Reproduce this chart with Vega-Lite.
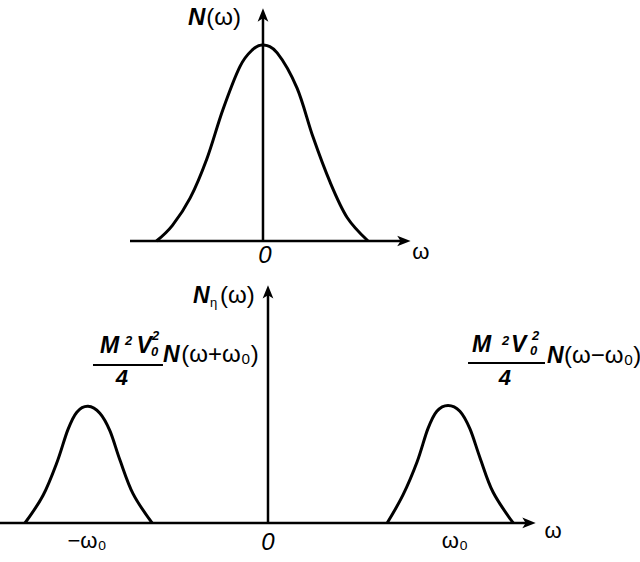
{
  "$schema": "https://vega.github.io/schema/vega-lite/v6.json",
  "width": 640,
  "height": 562,
  "padding": 0,
  "autosize": "none",
  "background": "white",
  "config": {"view": {"stroke": null}, "text": {"font": "Liberation Sans", "color": "black", "baseline": "alphabetic"}},
  "datasets": {
    "topCurve": [
      {"w": -3.0, "n": 0.0}, {"w": -2.55, "n": 0.08}, {"w": -2.05, "n": 0.22}, {"w": -1.58, "n": 0.42},
      {"w": -1.13, "n": 0.67}, {"w": -0.65, "n": 0.89}, {"w": -0.3, "n": 0.975}, {"w": 0.0, "n": 1.0},
      {"w": 0.4, "n": 0.96}, {"w": 0.96, "n": 0.78}, {"w": 1.41, "n": 0.53}, {"w": 1.89, "n": 0.3},
      {"w": 2.37, "n": 0.12}, {"w": 2.96, "n": 0.0}
    ],
    "topAxes": [
      {"w": -3.746, "n": 0, "w2": 3.97, "n2": 0},
      {"w": 0, "n": 0, "w2": 0, "n2": 1.15}
    ],
    "topArrowX": [{"w": 3.97, "n": 0}],
    "topArrowY": [{"w": 0, "n": 1.153}],
    "topItalic": [{"w": -2.113, "n": 1.102, "t": "N"}],
    "topUpright": [{"w": -1.6, "n": 1.102, "t": "(ω)"}],
    "topAxisZero": [{"w": 0.056, "n": -0.112, "t": "0"}],
    "topAxisOmega": [{"w": 4.45, "n": -0.092, "t": "ω"}],
    "botCurves": [
      {"side": "minus", "w": -6.75, "n": 0.0}, {"side": "minus", "w": -6.25, "n": 0.14}, {"side": "minus", "w": -5.86, "n": 0.31},
      {"side": "minus", "w": -5.56, "n": 0.475}, {"side": "minus", "w": -5.31, "n": 0.565}, {"side": "minus", "w": -5.0, "n": 0.595},
      {"side": "minus", "w": -4.67, "n": 0.56}, {"side": "minus", "w": -4.39, "n": 0.47}, {"side": "minus", "w": -4.11, "n": 0.32},
      {"side": "minus", "w": -3.75, "n": 0.15}, {"side": "minus", "w": -3.22, "n": 0.0},
      {"side": "plus", "w": 3.31, "n": 0.0}, {"side": "plus", "w": 3.75, "n": 0.143}, {"side": "plus", "w": 4.14, "n": 0.311},
      {"side": "plus", "w": 4.44, "n": 0.48}, {"side": "plus", "w": 4.69, "n": 0.57}, {"side": "plus", "w": 5.0, "n": 0.6},
      {"side": "plus", "w": 5.33, "n": 0.57}, {"side": "plus", "w": 5.61, "n": 0.48}, {"side": "plus", "w": 5.89, "n": 0.332},
      {"side": "plus", "w": 6.25, "n": 0.158}, {"side": "plus", "w": 6.81, "n": 0.0}
    ],
    "botAxes": [
      {"w": -7.444, "n": 0, "w2": 7.25, "n2": 0},
      {"w": 0, "n": 0, "w2": 0, "n2": 1.17}
    ],
    "botFrac": [
      {"w": -4.861, "n": 0.806, "w2": -2.917, "n2": 0.806},
      {"w": 5.556, "n": 0.816, "w2": 7.694, "n2": 0.816}
    ],
    "botArrowX": [{"w": 7.25, "n": 0}],
    "botArrowY": [{"w": 0, "n": 1.179}],
    "botItalicLeft": [
      {"w": -2.083, "n": 1.122, "t": "N"},
      {"w": -4.667, "n": 0.867, "t": "M"},
      {"w": -3.65, "n": 0.867, "t": "V"},
      {"w": -2.917, "n": 0.821, "t": "N"},
      {"w": 5.67, "n": 0.872, "t": "M"},
      {"w": 6.75, "n": 0.872, "t": "V"},
      {"w": 7.75, "n": 0.816, "t": "N"}
    ],
    "botItalicCenter": [
      {"w": -4.056, "n": 0.704, "t": "4"},
      {"w": 6.583, "n": 0.704, "t": "4"}
    ],
    "botAxisZero": [{"w": 0.0, "n": -0.138, "t": "0"}],
    "botUprightLeft": [
      {"w": -1.33, "n": 1.122, "t": "(ω)"},
      {"w": -2.41, "n": 0.821, "t": "(ω+ω₀)"},
      {"w": 8.22, "n": 0.816, "t": "(ω−ω₀)"}
    ],
    "botUprightCenter": [
      {"w": -5.028, "n": -0.128, "t": "−ω₀"},
      {"w": 5.194, "n": -0.128, "t": "ω₀"},
      {"w": 7.917, "n": -0.077, "t": "ω"}
    ],
    "botSub": [
      {"w": -1.611, "n": 1.102, "t": "η"}
    ],
    "botSmall": [
      {"w": -3.97, "n": 0.908, "t": "2"},
      {"w": -3.25, "n": 0.852, "t": "0"},
      {"w": -3.22, "n": 0.934, "t": "2"},
      {"w": 6.5, "n": 0.908, "t": "2"},
      {"w": 7.278, "n": 0.857, "t": "0"},
      {"w": 7.333, "n": 0.934, "t": "2"}
    ]
  },
  "layer": [
    {
      "encoding": {
        "x": {"field": "w", "type": "quantitative", "scale": {"domain": [-7.408, 10.62], "nice": false, "zero": false}, "axis": null},
        "y": {"field": "n", "type": "quantitative", "scale": {"domain": [-1.6378, 1.2296], "nice": false, "zero": false}, "axis": null}
      },
      "layer": [
        {"data": {"name": "topAxes"}, "mark": {"type": "rule", "strokeWidth": 2.5, "color": "black"},
         "encoding": {"x2": {"field": "w2"}, "y2": {"field": "n2"}}},
        {"data": {"name": "topCurve"}, "mark": {"type": "line", "interpolate": "cardinal", "strokeWidth": 3, "color": "black"}, "encoding": {}},
        {"data": {"name": "topArrowX"}, "mark": {"type": "point", "shape": "M 1 0 L -1 -0.8 L -0.5 0 L -1 0.8 Z", "size": 180, "filled": true, "color": "black", "opacity": 1}, "encoding": {}},
        {"data": {"name": "topArrowY"}, "mark": {"type": "point", "shape": "M 0 -1 L -0.8 1 L 0 0.5 L 0.8 1 Z", "size": 180, "filled": true, "color": "black", "opacity": 1}, "encoding": {}},
        {"data": {"name": "topItalic"}, "mark": {"type": "text", "align": "left", "fontStyle": "italic", "fontWeight": "bold", "fontSize": 24}, "encoding": {"text": {"field": "t"}}},
        {"data": {"name": "topUpright"}, "mark": {"type": "text", "align": "left", "fontSize": 24}, "encoding": {"text": {"field": "t"}}},
        {"data": {"name": "topAxisZero"}, "mark": {"type": "text", "align": "center", "fontStyle": "italic", "fontSize": 24}, "encoding": {"text": {"field": "t"}}},
        {"data": {"name": "topAxisOmega"}, "mark": {"type": "text", "align": "center", "fontSize": 22}, "encoding": {"text": {"field": "t"}}}
      ]
    },
    {
      "encoding": {
        "x": {"field": "w", "type": "quantitative", "scale": {"domain": [-7.444, 10.333], "nice": false, "zero": false}, "axis": null},
        "y": {"field": "n", "type": "quantitative", "scale": {"domain": [-0.199, 2.668], "nice": false, "zero": false}, "axis": null}
      },
      "layer": [
        {"data": {"name": "botAxes"}, "mark": {"type": "rule", "strokeWidth": 2.5, "color": "black"},
         "encoding": {"x2": {"field": "w2"}, "y2": {"field": "n2"}}},
        {"data": {"name": "botFrac"}, "mark": {"type": "rule", "strokeWidth": 2, "color": "black"},
         "encoding": {"x2": {"field": "w2"}, "y2": {"field": "n2"}}},
        {"data": {"name": "botCurves"}, "mark": {"type": "line", "interpolate": "cardinal", "strokeWidth": 3, "color": "black"},
         "encoding": {"detail": {"field": "side"}}},
        {"data": {"name": "botArrowX"}, "mark": {"type": "point", "shape": "M 1 0 L -1 -0.8 L -0.5 0 L -1 0.8 Z", "size": 180, "filled": true, "color": "black", "opacity": 1}, "encoding": {}},
        {"data": {"name": "botArrowY"}, "mark": {"type": "point", "shape": "M 0 -1 L -0.8 1 L 0 0.5 L 0.8 1 Z", "size": 180, "filled": true, "color": "black", "opacity": 1}, "encoding": {}},
        {"data": {"name": "botItalicLeft"}, "mark": {"type": "text", "align": "left", "fontStyle": "italic", "fontWeight": "bold", "fontSize": 23}, "encoding": {"text": {"field": "t"}}},
        {"data": {"name": "botItalicCenter"}, "mark": {"type": "text", "align": "center", "fontStyle": "italic", "fontWeight": "bold", "fontSize": 22}, "encoding": {"text": {"field": "t"}}},
        {"data": {"name": "botAxisZero"}, "mark": {"type": "text", "align": "center", "fontStyle": "italic", "fontSize": 24}, "encoding": {"text": {"field": "t"}}},
        {"data": {"name": "botUprightLeft"}, "mark": {"type": "text", "align": "left", "fontSize": 24}, "encoding": {"text": {"field": "t"}}},
        {"data": {"name": "botUprightCenter"}, "mark": {"type": "text", "align": "center", "fontSize": 22}, "encoding": {"text": {"field": "t"}}},
        {"data": {"name": "botSub"}, "mark": {"type": "text", "align": "left", "fontSize": 13}, "encoding": {"text": {"field": "t"}}},
        {"data": {"name": "botSmall"}, "mark": {"type": "text", "align": "left", "fontStyle": "italic", "fontWeight": "bold", "fontSize": 13}, "encoding": {"text": {"field": "t"}}}
      ]
    }
  ],
  "resolve": {"scale": {"x": "independent", "y": "independent"}}
}
